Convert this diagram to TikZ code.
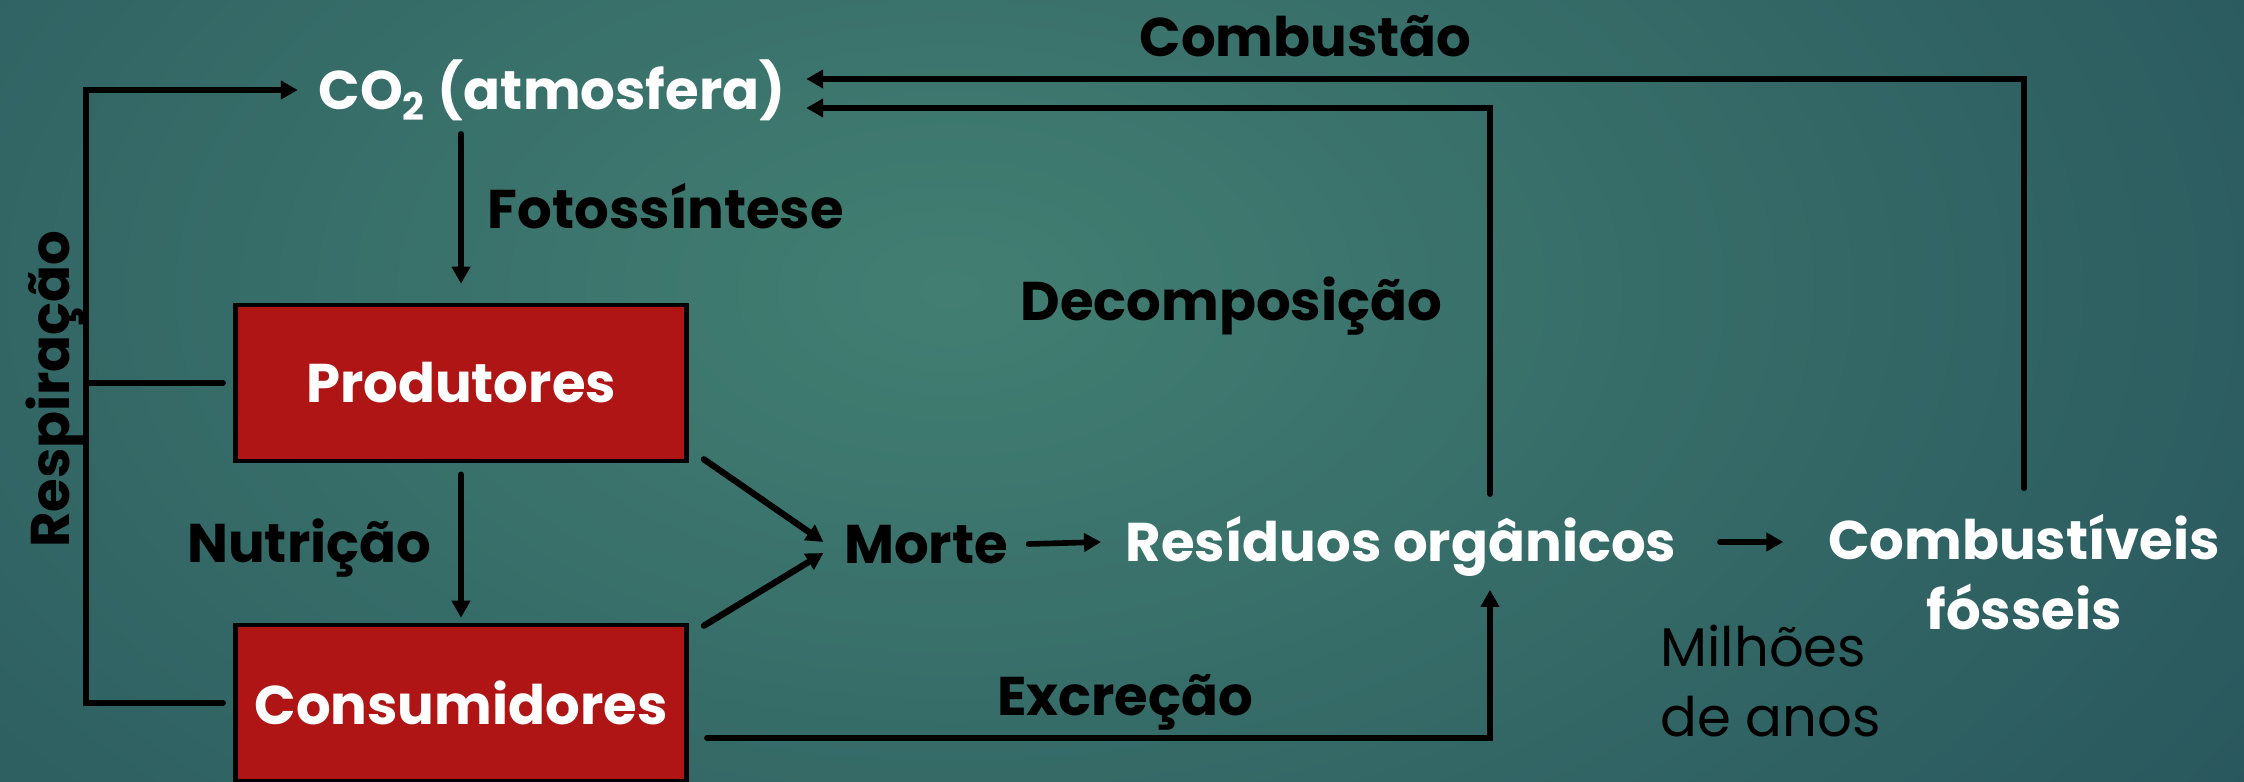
\documentclass[tikz,border=0pt]{standalone}
\usepackage{fontspec}
\setmainfont{Poppins}
\usepackage{tikz}
\usetikzlibrary{positioning,arrows.meta}
\usepackage{xcolor}
\definecolor{boxred}{RGB}{176,21,21}
\definecolor{seainner}{RGB}{66,127,114}
\definecolor{seaouter}{RGB}{20,54,76}
\tikzstyle{organism}=[rectangle, draw=black, line width=1.3pt, fill=boxred, text=white,
font=\fontsize{15.5}{20}\selectfont\bfseries, minimum width=4.51cm, minimum height=1.56cm]
\tikzstyle{caps}=[text height=10.9pt, text depth=0pt]
\tikzstyle{pool}=[text=white, font=\fontsize{15.5}{20}\selectfont\bfseries]
\tikzstyle{process}=[text=black, font=\fontsize{15.5}{20}\selectfont\bfseries]
\tikzstyle{note}=[text=black, font=\fontsize{15.5}{20}\selectfont, align=left]
\tikzstyle{flow}=[-{Triangle[length=1.7mm,width=1.8mm]}, line width=1.6pt, line cap=round, black]
\tikzstyle{link}=[line width=1.6pt, line cap=round, black]

\begin{document}
\begin{tikzpicture}[x=0.01cm, y=-0.01cm]
            \useasboundingbox (0,0) rectangle (2244,782);
            \begin{scope}
                \clip (0,0) rectangle (2244,782);
                \fill [seaouter] (0,0) rectangle (2244,782);
                \shade [inner color=seainner, outer color=seaouter] (950,290) ellipse (28cm and 17cm);
            \end{scope}
            \coordinate (r) at (86,0);
            \coordinate (k) at (1490,782);
            \node (1)[pool, caps, inner xsep=0.2cm, inner ysep=0.24cm] at (552,90) {CO\textsubscript{2} (atmosfera)};
            \node (2)[organism] at (461,383) {Produtores};
            \node (3)[organism] at (461,703) {Consumidores};
            \node (4)[process, caps, inner sep=0.2cm] at (926,544) {Morte};
            \node (5)[pool, caps, inner xsep=0.24cm, inner ysep=0.28cm] at (1401,542) {Resíduos orgânicos};
            \node (6)[pool, align=center, inner xsep=0.44cm, inner ysep=0.25cm] at (2024,572) {Combustíveis\\fósseis};
            \node (7)[note, anchor=west] at (1648,681) {Milhões\\de anos};
            \draw [flow] ([xshift=-1mm]3.west) -| (r |- 1.west)
                node [pos=0.756, sloped, above, process, caps, inner sep=0.14cm]{Respiração} -- (1.west);
            \draw [link] ([xshift=-1mm]2.west) -- (2.west -| r);
            \draw [flow, shorten >=1.9mm] (1.south -| 2.north) -- (2.north)
                node [pos=0.45, right, process, caps, inner sep=0.24cm]{Fotossíntese};
            \draw [flow, shorten <=1.1mm, shorten >=0.5mm] (2.south) -- (3.north)
                node [midway, left, process, caps, inner sep=0.27cm]{Nutrição};
            \draw [flow, line width=1.8pt] ([xshift=1.5mm,yshift=0.4mm]2.south east) -- ([yshift=0.2mm]4.west);
            \draw [flow, line width=1.8pt] ([xshift=1.5mm,yshift=-0.3mm]3.north east) -- ([yshift=-0.9mm]4.west);
            \draw [flow] (4.east) -- (5.west);
            \draw [flow, shorten <=1.9mm] (5.east) -- (5.east -| 6.west);
            \draw [flow] (5.north -| k) |- ([yshift=-1.8mm]1.east)
                node [pos=0.25, left, process, caps, inner sep=0.45cm]{Decomposição};
            \draw [flow] (6.north) |- ([yshift=1.1mm]1.east)
                node [pos=0.795, above, process, caps, inner sep=0.2cm]{Combustão};
            \draw [flow] ([xshift=1.8mm,yshift=-3.5mm]3.east) -| (5.south -| k)
                node [pos=0.267, above, process, caps, inner sep=0.2cm]{Excreção};
\end{tikzpicture}
\end{document}
